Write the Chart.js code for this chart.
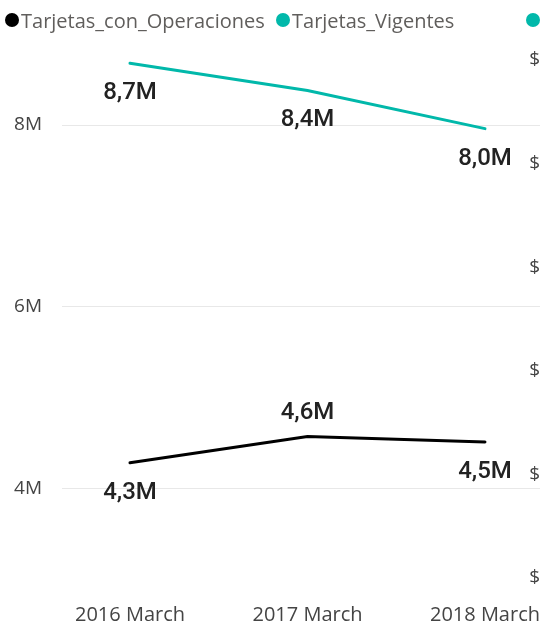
<!DOCTYPE html>
<html><head><meta charset="utf-8">
<script src="https://cdn.jsdelivr.net/npm/chart.js@4.4.1/dist/chart.umd.min.js"></script>
<style>
html,body{margin:0;padding:0;background:#fff;}
#wrap{position:relative;width:540px;height:626px;overflow:hidden;}
#c{position:absolute;left:0;top:0;}
#legend{position:absolute;left:0;top:0;height:40px;width:540px;font-family:'Segoe UI','Open Sans',sans-serif;font-size:20px;color:#605E5C;}
.li{position:absolute;top:7px;height:26px;display:flex;align-items:center;white-space:nowrap;}
.dot{width:14px;height:14px;border-radius:50%;display:inline-block;margin-right:2px;flex:none;}
</style></head>
<body><div id="wrap"><canvas id="c" width="540" height="626"></canvas><div id="legend"></div></div>
<script>
const categories = ['2016 March', '2017 March', '2018 March'];
const seriesNames = ['Tarjetas_con_Operaciones', 'Tarjetas_Vigentes'];
const tarjetasConOperaciones = [4.28e6, 4.57e6, 4.51e6];
const tarjetasVigentes = [8.68e6, 8.38e6, 7.96e6];
const leftTicks = [4e6, 6e6, 8e6];
const leftTickLabels = ['4M', '6M', '8M'];
const rightTicks = [0, 1, 2, 3, 4, 5];
const rightTickLabels = ['$', '$', '$', '$', '$', '$'];

const COLORS = ['#000000', '#01B8AA'];
const FONT = "'Segoe UI','Open Sans',sans-serif";

// HTML legend (third entry cropped at the right edge like the reference)
const legend = document.getElementById('legend');
const legendItems = [
  {left: 5, color: COLORS[0], text: seriesNames[0]},
  {left: 276, color: COLORS[1], text: seriesNames[1]},
  {left: 526, color: COLORS[1], text: ''}
];
legendItems.forEach(it => {
  const d = document.createElement('div');
  d.className = 'li';
  d.style.left = it.left + 'px';
  const dot = document.createElement('span');
  dot.className = 'dot';
  dot.style.background = it.color;
  d.appendChild(dot);
  if (it.text) { const s = document.createElement('span'); s.textContent = it.text; d.appendChild(s); }
  legend.appendChild(d);
});

const labelPlugin = {
  id: 'valueLabels',
  afterDatasetsDraw(chart) {
    const ctx = chart.ctx;
    ctx.save();
    ctx.font = '500 24px Roboto';
    ctx.fillStyle = '#222222';
    ctx.textAlign = 'center';
    ctx.textBaseline = 'middle';
    chart.data.datasets.forEach((ds, di) => {
      const meta = chart.getDatasetMeta(di);
      meta.data.forEach((pt, i) => {
        const v = ds.data[i].y;
        const txt = (v / 1e6).toFixed(1).replace('.', ',') + 'M';
        const off = ds.labelPos[i] === 'above' ? -24 : 30;
        ctx.fillText(txt, pt.x, pt.y + off);
      });
    });
    ctx.restore();
  }
};

new Chart(document.getElementById('c'), {
  type: 'line',
  data: {
    datasets: [
      {
        label: seriesNames[0],
        data: tarjetasConOperaciones.map((v, i) => ({x: i, y: v})),
        borderColor: COLORS[0], backgroundColor: COLORS[0],
        borderWidth: 3, pointRadius: 0, tension: 0, borderCapStyle: 'round',
        labelPos: ['below', 'above', 'below'], yAxisID: 'y'
      },
      {
        label: seriesNames[1],
        data: tarjetasVigentes.map((v, i) => ({x: i, y: v})),
        borderColor: COLORS[1], backgroundColor: COLORS[1],
        borderWidth: 3, pointRadius: 0, tension: 0, borderCapStyle: 'round',
        labelPos: ['below', 'below', 'below'], yAxisID: 'y'
      }
    ]
  },
  options: {
    responsive: false,
    animation: false,
    devicePixelRatio: 1,
    layout: {padding: {top: 40, left: 0, right: 0, bottom: 0}},
    plugins: {legend: {display: false}, tooltip: {enabled: false}},
    scales: {
      x: {
        type: 'linear', bounds: 'data', min: -0.383, max: 2.31,
        grid: {display: false}, border: {display: false},
        afterBuildTicks: s => { s.ticks = categories.map((c, i) => ({value: i})); },
        ticks: {callback: v => categories[v], font: {family: FONT, size: 20}, color: '#444444', padding: 0, maxRotation: 0, autoSkip: false},
        afterFit: s => { s.height = 31; s.paddingLeft = 0; s.paddingRight = 0; }
      },
      y: {
        position: 'left', bounds: 'data', min: 2.825e6, max: 8.936e6,
        afterBuildTicks: s => { s.ticks = leftTicks.map(v => ({value: v})); },
        ticks: {callback: v => leftTickLabels[leftTicks.indexOf(v)], font: {family: FONT, size: 19}, color: '#444444', padding: 20},
        grid: {color: '#e8e8e8', lineWidth: 1, drawTicks: false},
        border: {display: false},
        afterFit: s => { s.width = 62; s.paddingTop = 0; s.paddingBottom = 0; }
      },
      y2: {
        position: 'right', bounds: 'data', min: -0.164, max: 5.193,
        afterBuildTicks: s => { s.ticks = rightTicks.map(v => ({value: v})); },
        ticks: {mirror: true, callback: v => rightTickLabels[rightTicks.indexOf(v)], font: {family: FONT, size: 19}, color: '#444444', padding: 0},
        grid: {display: false, drawTicks: false},
        border: {display: false},
        afterFit: s => { s.width = 0; s.paddingTop = 0; s.paddingBottom = 0; }
      }
    }
  },
  plugins: [labelPlugin]
});
</script>
</body></html>
